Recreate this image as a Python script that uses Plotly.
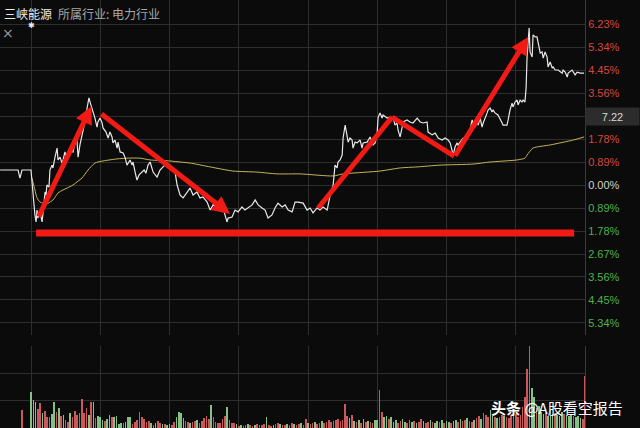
import plotly.graph_objects as go

# ---------------- data (minutes from 09:30, % change vs previous close) ----------------
PRICE_MIN = [
    -13.4, -5.6, -4.8, -3.9, 0.0, 0.4, 1.3, 1.7, 2.2, 2.6,
    3.0, 3.9, 4.8, 5.6, 6.1, 6.5, 6.9, 7.8, 8.2, 9.1,
    9.5, 10.4, 11.3, 11.7, 12.6, 13.4, 13.9, 14.7, 15.6, 16.5,
    16.9, 18.2, 19.1, 19.9, 20.4, 21.2, 22.1, 22.5, 23.4, 23.8,
    24.3, 24.7, 25.1, 25.6, 26.0, 26.4, 26.9, 27.7, 28.6, 29.0,
    29.9, 30.8, 31.2, 32.5, 33.4, 34.2, 35.1, 35.5, 36.4, 37.3,
    37.7, 38.6, 39.9, 40.7, 41.6, 42.0, 42.9, 43.8, 44.2, 45.1,
    45.9, 46.8, 48.1, 49.0, 49.8, 50.7, 51.6, 52.9, 54.6, 55.9,
    57.2, 58.9, 60.2, 62.4, 63.3, 64.6, 65.9, 67.6, 68.9, 70.2,
    71.9, 73.2, 74.5, 76.3, 77.6, 78.9, 80.6, 81.9, 83.2, 84.9,
    85.4, 87.1, 88.4, 89.7, 91.4, 92.7, 94.0, 95.8, 97.1, 98.4,
    100.1, 101.4, 102.7, 104.4, 105.7, 107.0, 108.8, 110.1, 111.4, 113.1,
    114.4, 115.7, 117.9, 119.6, 120.9, 122.2, 123.9, 125.2, 126.5, 128.3,
    129.6, 130.9, 131.7, 132.6, 133.0, 133.9, 134.8, 135.2, 136.1, 136.9,
    137.4, 138.2, 139.1, 139.5, 140.4, 141.3, 142.6, 143.4, 143.9, 145.6,
    146.9, 148.2, 149.1, 149.9, 150.4, 151.2, 152.1, 152.5, 153.4, 154.3,
    155.6, 156.9, 157.7, 158.6, 159.0, 159.9, 160.8, 161.2, 162.9, 164.2,
    165.5, 167.3, 168.6, 169.9, 171.6, 172.0, 173.8, 175.1, 176.4, 178.1,
    179.4, 180.7, 181.6, 182.4, 182.9, 183.7, 184.6, 185.0, 185.9, 187.2,
    188.9, 190.2, 191.1, 191.5, 192.4, 193.3, 193.7, 194.6, 195.4, 195.9,
    197.6, 198.0, 198.9, 199.7, 200.2, 201.0, 202.3, 203.2, 204.1, 204.5,
    206.2, 206.7, 207.5, 208.4, 208.8, 209.7, 210.6, 211.0, 211.9, 212.7,
    213.2, 214.0, 214.5, 214.9, 215.4, 215.8, 216.2, 217.1, 217.5, 218.4,
    219.2, 219.7, 220.6, 221.4, 221.9, 222.7, 223.6, 224.0, 224.9, 225.8,
    226.2, 227.1, 228.4, 230.1, 230.5, 231.4, 232.3, 232.7, 234.4, 235.7,
    236.6, 237.9, 239.6,
]
PRICE_PCT = [
    0.58, 0.58, 0.27, 0.58, 0.58, 0.15, -0.58, -1.16, -1.43, -0.97,
    -1.28, -1.04, -1.43, -0.77, -0.27, -0.39, 0.00, -0.08, 0.58, 0.77,
    0.66, 1.08, 1.43, 0.97, 1.08, 0.85, 0.97, 1.28, 0.97, 1.28,
    1.35, 1.28, 1.66, 1.74, 1.08, 1.55, 1.94, 2.13, 2.44, 2.63,
    2.98, 3.29, 3.37, 3.21, 3.10, 2.98, 2.90, 2.59, 2.24, 2.44,
    2.59, 2.40, 2.21, 2.05, 1.82, 2.05, 1.86, 1.63, 1.74, 1.43,
    1.66, 1.28, 1.24, 1.08, 0.77, 0.85, 0.97, 0.77, 0.89, 0.50,
    0.19, 0.39, 0.50, 0.58, 0.46, 0.77, 0.89, 0.50, 0.31, 0.58,
    0.70, 0.85, 0.77, 0.50, 0.00, -0.39, -0.50, -0.27, -0.12, -0.39,
    -0.27, -0.50, -0.46, -0.66, -0.97, -0.77, -0.85, -0.66, -0.89, -1.43,
    -1.28, -1.24, -0.97, -1.04, -0.85, -0.97, -0.89, -0.77, -0.58, -0.77,
    -0.89, -0.97, -1.28, -1.16, -0.89, -0.70, -0.85, -0.77, -0.97, -1.04,
    -0.66, -0.66, -0.70, -0.97, -0.89, -1.08, -0.89, -0.97, -0.85, -0.97,
    -0.39, 0.00, 0.77, 0.66, 0.89, 0.97, 1.16, 1.82, 2.32, 1.94,
    1.66, 1.82, 1.74, 1.43, 1.66, 1.63, 1.74, 1.43, 1.63, 1.66,
    1.86, 1.55, 1.63, 1.94, 2.63, 2.79, 2.59, 2.71, 2.63, 2.59,
    2.63, 2.59, 2.32, 2.40, 2.13, 1.86, 2.24, 2.44, 2.52, 2.44,
    2.40, 2.59, 2.44, 2.40, 2.44, 2.05, 1.94, 2.01, 1.82, 1.74,
    1.82, 1.74, 1.63, 1.28, 1.16, 1.47, 1.63, 1.55, 1.66, 1.82,
    1.82, 2.13, 2.52, 2.40, 2.24, 2.44, 2.32, 2.59, 2.24, 2.40,
    2.79, 2.90, 2.98, 2.83, 2.90, 2.79, 2.71, 2.52, 2.40, 2.32,
    2.32, 2.52, 2.90, 3.17, 3.02, 3.21, 3.29, 3.10, 3.29, 3.21,
    3.29, 3.21, 3.79, 4.95, 5.88, 6.08, 5.15, 4.95, 5.81, 5.73,
    5.73, 5.50, 5.11, 5.15, 4.91, 5.15, 4.95, 4.57, 4.76, 4.53,
    4.57, 4.45, 4.45, 4.33, 4.45, 4.37, 4.18, 4.33, 4.45, 4.26,
    4.37, 4.33, 4.33,
]

AVG_MIN = [0.4, 1.7, 2.6, 3.9, 5.2, 7.4, 9.5, 11.7, 13.9, 15.6,
           18.2, 20.4, 22.1, 24.7, 27.7, 31.2, 37.3, 41.6, 47.2, 51.6,
           60.2, 64.6, 68.9, 77.6, 87.5, 97.9, 106.6, 116.6, 130.9, 135.2,
           145.6, 151.2, 159.9, 167.3, 177.2, 191.5, 198.9, 210.6, 214.0, 214.9,
           217.5, 224.9, 234.9, 239.6]
AVG_PCT = [0.27, -0.19, -0.50, -0.66, -0.70, -0.70, -0.58, -0.31, -0.19, -0.12,
           0.00, 0.15, 0.27, 0.58, 0.85, 0.93, 1.01, 1.04, 1.04, 0.97,
           0.93, 0.89, 0.85, 0.70, 0.54, 0.50, 0.43, 0.43, 0.35, 0.43,
           0.50, 0.54, 0.66, 0.70, 0.77, 0.81, 0.89, 0.97, 1.04, 1.16,
           1.43, 1.55, 1.74, 1.86]

# per-minute volume, minutes 0..240
VOL = [
    36, 28, 26, 19, 25, 15, 17, 11, 11, 14,
    26, 16, 20, 12, 13, 8, 6, 15, 11, 17,
    13, 15, 29, 15, 20, 13, 26, 26, 10, 12,
    11, 8, 7, 9, 13, 11, 11, 12, 4, 5,
    5, 6, 11, 11, 4, 6, 8, 16, 11, 9,
    6, 7, 5, 3, 5, 7, 5, 4, 4, 3,
    4, 3, 6, 11, 16, 15, 10, 7, 6, 5,
    6, 7, 8, 5, 7, 10, 12, 9, 23, 11,
    6, 5, 5, 9, 12, 21, 8, 5, 5, 4,
    2, 3, 2, 3, 4, 3, 2, 3, 4, 3,
    3, 4, 11, 3, 2, 3, 4, 5, 4, 3,
    3, 4, 3, 5, 4, 3, 4, 5, 3, 9,
    5, 4, 5, 6, 4, 5, 7, 5, 6, 8,
    6, 7, 8, 9, 7, 8, 24, 12, 10, 13,
    7, 6, 8, 5, 9, 6, 7, 6, 5, 8,
    8, 38, 16, 11, 12, 9, 11, 6, 8, 5,
    7, 9, 6, 5, 8, 6, 7, 5, 6, 9,
    7, 5, 6, 8, 6, 5, 7, 6, 8, 5,
    7, 6, 5, 7, 8, 6, 9, 7, 8, 10,
    7, 6, 8, 10, 12, 9, 15, 13, 11, 18,
    12, 11, 10, 11, 13, 12, 11, 10, 13, 12,
    14, 11, 13, 21, 31, 58, 83, 40, 31, 20,
    22, 16, 14, 15, 12, 18, 14, 15, 13, 12,
    16, 14, 13, 12, 13, 12, 11, 12, 10, 9,
    51,
]
VOL_DIR = ("gggrrgrrrg" "grgrgrrgrr" "rrrrrgrgrg" "ggrggrgggg" "rgggrrrrrr"
           "rrgrgrrgrg" "grrggggrrg" "rrgrrrrrgr" "rrrrrgrrrg" "rgrrgrrgrr"
           "rrgrrgrrgr" "rgrrgrrgrr" "grrgrrgrrr" "rrrrrrrrgr" "grgrgrgrrg"
           "grrggrgggr" "rggrrgrgrr" "grrgrggrgr" "ggrggrgrrg" "rrgrrgrrrg"
           "grgrrgrrrr" "rrrrrrrggr" "gggrgggrgg" "grgggrgggr" "r")
AUCTION_MIN = [-3.9]
AUCTION_VOL = [18]

TICK_VALS = [6.23, 5.34, 4.45, 3.56, 2.67, 1.78, 0.89, 0.00,
             -0.89, -1.78, -2.67, -3.56, -4.45, -5.34]
LAST_PRICE = "7.22"
LAST_PRICE_LEVEL = 2.67

# hand-drawn red marks (minute, pct)
ARROWS = [((3.0, -1.28), (26.2, 3.05)),
          ((29.9, 2.79), (86.2, -1.12)),
          ((183.3, 1.08), (215.4, 5.73))]
SEGMENTS = [((124.4, -0.89), (156.4, 2.63)),
            ((156.4, 2.63), (183.3, 1.12))]
FLOOR = ((2.2, -1.86), (235.3, -1.86))

# ---------------- styling ----------------
BG = "#0b0b0b"
GRID = "#2e2e2e"
RED_TXT = "#d8473e"
GRN_TXT = "#4fb050"
DRAW_RED = "#f21a14"

fig = go.Figure()

bar_colors = ["#c9595a" if d == "r" else "#85c085" for d in VOL_DIR]
fig.add_trace(go.Bar(x=list(range(len(VOL))), y=VOL, marker_color=bar_colors,
                     marker_line_width=0, width=0.7, xaxis="x2", yaxis="y2"))
fig.add_trace(go.Bar(x=AUCTION_MIN, y=AUCTION_VOL, marker_color="#c9595a",
                     marker_line_width=0, width=0.7, xaxis="x2", yaxis="y2"))

fig.add_trace(go.Scatter(x=AVG_MIN, y=AVG_PCT, mode="lines",
                         line=dict(color="#c8b25a", width=1, shape="spline", smoothing=0.6)))
fig.add_trace(go.Scatter(x=PRICE_MIN, y=PRICE_PCT, mode="lines",
                         line=dict(color="#e8e8e8", width=1.2)))


def tick_label(v):
    if abs(v - LAST_PRICE_LEVEL) < 1e-9:
        return ""
    if v > 0:
        return f'<span style="color:{RED_TXT}">{v:.2f}%</span>'
    if v < 0:
        return f'<span style="color:{GRN_TXT}">{abs(v):.2f}%</span>'
    return f'<span style="color:#d0d0d0">{v:.2f}%</span>'


TICK_TEXT = [tick_label(v) for v in TICK_VALS]

shapes = []
for (x0, y0), (x1, y1) in SEGMENTS:
    shapes.append(dict(type="line", xref="x", yref="y", x0=x0, y0=y0, x1=x1, y1=y1,
                       line=dict(color=DRAW_RED, width=5)))
(fx0, fy0), (fx1, fy1) = FLOOR
shapes.append(dict(type="line", xref="x", yref="y", x0=fx0, y0=fy0, x1=fx1, y1=fy1,
                   line=dict(color=DRAW_RED, width=7)))

annotations = []
for (x0, y0), (x1, y1) in ARROWS:
    annotations.append(dict(x=x1, y=y1, ax=x0, ay=y0, xref="x", yref="y",
                            axref="x", ayref="y", text="", showarrow=True,
                            arrowhead=2, arrowsize=0.7, arrowwidth=5,
                            arrowcolor=DRAW_RED))

annotations += [
    dict(xref="paper", yref="paper", x=0, y=1 - 13 / 428, xanchor="left", yanchor="middle",
         xshift=2, showarrow=False, text="三峡能源",
         font=dict(family="Noto Sans CJK SC", size=12, color="#ececec")),
    dict(xref="paper", yref="paper", x=0, y=1 - 13 / 428, xanchor="left", yanchor="middle",
         xshift=56, showarrow=False, text="所属行业: 电力行业",
         font=dict(family="Noto Sans CJK SC", size=12, color="#a8a8a8")),
    dict(xref="x", yref="paper", x=0, y=1 - 25 / 428, xanchor="center", yanchor="middle",
         showarrow=False, text="✱", font=dict(family="DejaVu Sans", size=8, color="#f0f0e0")),
    dict(xref="paper", yref="paper", x=0, y=1 - 33 / 428, xanchor="left", yanchor="middle",
         xshift=0, showarrow=False, text="×", font=dict(family="DejaVu Sans", size=14, color="#9a9a9a")),
    dict(xref="paper", yref="y", x=1, y=LAST_PRICE_LEVEL, xanchor="left", yanchor="middle",
         showarrow=False, text=LAST_PRICE, bgcolor="#2c2c2c", width=51, height=15,
         borderpad=1, align="center",
         font=dict(family="Liberation Sans", size=11, color="#d8d8d8")),
    dict(xref="paper", yref="paper", x=1, y=1 - 407 / 428, xanchor="right", yanchor="middle",
         xshift=40, showarrow=False, text="<b>头条</b> @A股看空报告",
         font=dict(family="Noto Sans CJK SC", size=15, color="#ffffff")),
]

X_TICKS = [0, 30, 60, 90, 120, 150, 180, 210, 240]
X_RANGE = [-13.43, 240]

fig.update_layout(
    width=640, height=428,
    margin=dict(l=0, r=55, t=0, b=0),
    paper_bgcolor=BG, plot_bgcolor=BG,
    showlegend=False, hovermode=False, bargap=0,
    font=dict(family="Liberation Sans", size=11, color="#cccccc"),
    xaxis=dict(domain=[0, 1], range=X_RANGE, tickvals=X_TICKS, showticklabels=False,
               showgrid=True, gridcolor=GRID, gridwidth=1, zeroline=False, anchor="y"),
    yaxis=dict(domain=[1 - 335 / 428, 1], range=[-5.805, 7.16], side="right",
               tickvals=TICK_VALS, ticktext=TICK_TEXT, ticks="",
               showgrid=True, gridcolor=GRID, gridwidth=1, zeroline=False,
               showline=True, linecolor="#3a3a3a", linewidth=1,
               tickfont=dict(family="Liberation Sans", size=11)),
    xaxis2=dict(domain=[0, 1], range=X_RANGE, tickvals=X_TICKS, showticklabels=False,
                showgrid=True, gridcolor=GRID, gridwidth=1, zeroline=False, anchor="y2",
                matches="x"),
    yaxis2=dict(domain=[0, 82 / 428], range=[0, 81], dtick=27, side="right",
                showticklabels=False, showgrid=True, gridcolor=GRID, gridwidth=1,
                zeroline=False, showline=True, linecolor="#3a3a3a", linewidth=1),
    shapes=shapes,
    annotations=annotations,
)

fig.write_html(
    "out.html",
    config={"displayModeBar": False, "staticPlot": True},
    post_script="document.body.style.margin='0';document.body.style.background='#0b0b0b';",
)
